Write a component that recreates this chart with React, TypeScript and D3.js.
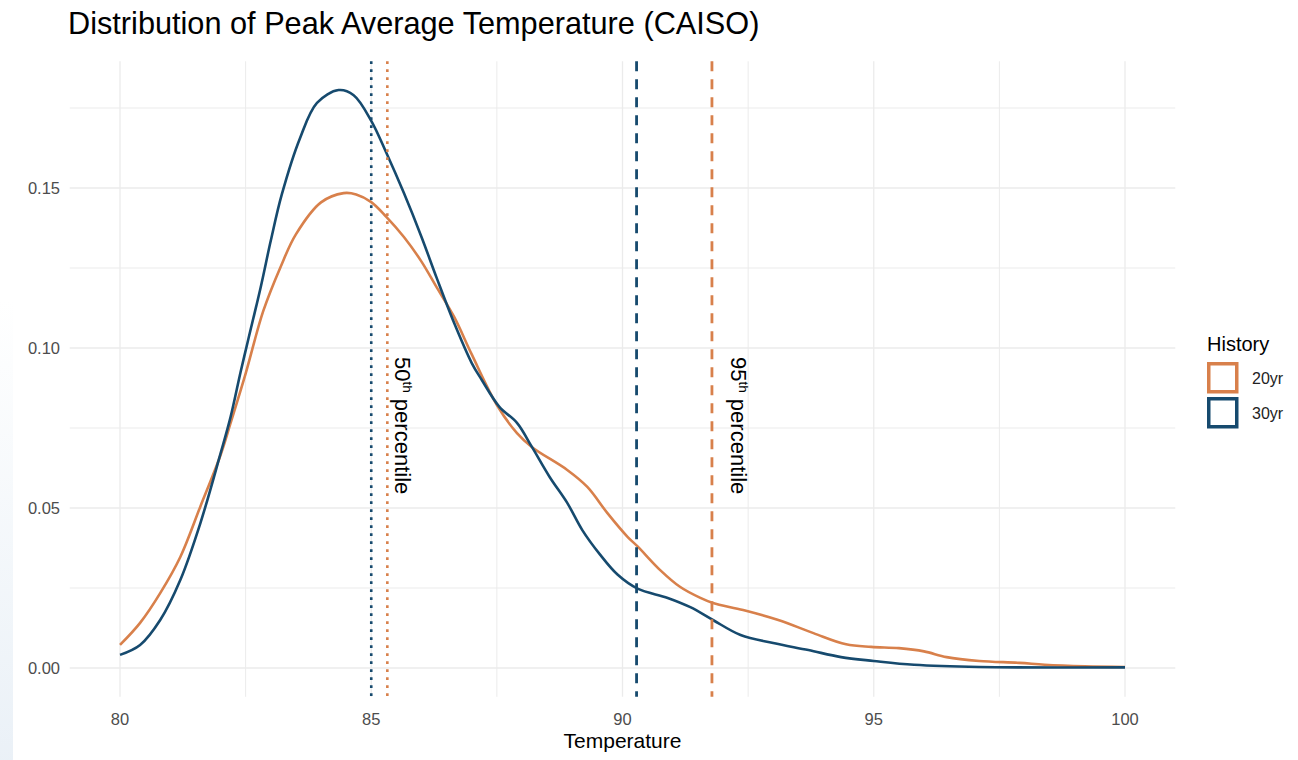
import React from 'react';
import * as d3 from 'd3';

const W = 1298;
const H = 760;

const TITLE = 'Distribution of Peak Average Temperature (CAISO)';
const X_TITLE = 'Temperature';
const LEGEND_TITLE = 'History';
const SERIES_NAMES = ['20yr', '30yr'];

const xTicks = [80, 85, 90, 95, 100];
const xMinor = [82.5, 87.5, 92.5, 97.5];
const yTicks = [0, 0.05, 0.1, 0.15];
const yMinor = [0.025, 0.075, 0.125, 0.175];

const temps20 = [80.0, 80.4, 80.8, 81.2, 81.6, 82.0, 82.2, 82.5, 82.85, 83.2, 83.5, 84.0, 84.45, 84.7, 85.0, 85.3, 85.65, 86.0, 86.3, 86.65, 87.0, 87.5, 87.9, 88.2, 88.9, 89.3, 89.7, 90.1, 90.3, 90.75, 91.15, 91.55, 91.8, 92.4, 93.1, 93.8, 94.45, 94.95, 95.5, 96.0, 96.45, 97.1, 97.9, 98.4, 99.2, 100];
const dens20 = [0.0072, 0.0141, 0.0234, 0.0347, 0.0505, 0.0665, 0.0765, 0.092, 0.1115, 0.1255, 0.1355, 0.1455, 0.1484, 0.148, 0.1456, 0.141, 0.1347, 0.127, 0.119, 0.1097, 0.098, 0.0822, 0.0734, 0.069, 0.0619, 0.0566, 0.0484, 0.041, 0.038, 0.0306, 0.0253, 0.0219, 0.0203, 0.0181, 0.015, 0.0109, 0.0074, 0.0066, 0.0062, 0.0052, 0.0034, 0.0022, 0.0016, 0.001, 0.0005, 0.0003];

const temps30 = [80.0, 80.4, 80.8, 81.2, 81.6, 82.0, 82.2, 82.4, 82.55, 82.8, 83.0, 83.22, 83.58, 83.92, 84.35, 84.65, 85.0, 85.3, 85.65, 86.0, 86.3, 86.65, 87.0, 87.2, 87.55, 87.9, 88.2, 88.55, 88.9, 89.2, 89.55, 89.9, 90.3, 90.9, 91.35, 91.8, 92.35, 93.0, 93.7, 94.35, 95.0, 95.8, 97.1, 100];
const dens30 = [0.0041, 0.0072, 0.015, 0.0275, 0.0453, 0.067, 0.0784, 0.0925, 0.1025, 0.119, 0.1335, 0.148, 0.1655, 0.1766, 0.1806, 0.179, 0.171, 0.161, 0.1484, 0.1347, 0.122, 0.1078, 0.0953, 0.09, 0.0816, 0.0766, 0.069, 0.0597, 0.0516, 0.0431, 0.0355, 0.0292, 0.0248, 0.0219, 0.019, 0.015, 0.0103, 0.0078, 0.0056, 0.0034, 0.0022, 0.001, 0.0003, 0.0002];

const p50 = [85.32, 85.0];
const p95 = [91.78, 90.28];

const COLORS = ['#D8804B', '#164A6E'];
const GRID = '#EBEBEB';
const TICK = '#4D4D4D';
const FONT = 'Liberation Sans, Arial, Helvetica, sans-serif';

export default function App() {
  const x = d3.scaleLinear().domain([80, 100]).range([120, 1125]);
  const y = d3.scaleLinear().domain([0, 0.15]).range([668, 188]);
  const panelLeft = x(79);
  const panelRight = x(101);
  const panelTop = y(0.1896);
  const panelBottom = y(-0.009);

  const line = d3
    .line<[number, number]>()
    .x((d) => x(d[0]))
    .y((d) => y(d[1]))
    .curve(d3.curveCatmullRom.alpha(0.5));

  const series = [
    temps20.map((t, i) => [t, dens20[i]] as [number, number]),
    temps30.map((t, i) => [t, dens30[i]] as [number, number]),
  ];

  return (
    <svg
      width={W}
      height={H}
      style={{ position: 'absolute', left: 0, top: 0, background: '#fff' }}
      fontFamily={FONT}
    >
      <defs>
        <linearGradient id="edge" x1="0" y1="0" x2="0" y2="1">
          <stop offset="0" stopColor="#EAF1F7" stopOpacity={0} />
          <stop offset="0.5" stopColor="#EAF1F7" stopOpacity={0.5} />
          <stop offset="1" stopColor="#E8EFF6" stopOpacity={0.9} />
        </linearGradient>
      </defs>
      <rect x={0} y={0} width={W} height={H} fill="#fff" />
      <rect x={0} y={300} width={13} height={460} fill="url(#edge)" />

      {/* grid */}
      {yMinor.map((v) => (
        <line key={'ym' + v} x1={panelLeft} x2={panelRight} y1={y(v)} y2={y(v)} stroke={GRID} strokeWidth={1} />
      ))}
      {xMinor.map((v) => (
        <line key={'xm' + v} x1={x(v)} x2={x(v)} y1={panelTop} y2={panelBottom} stroke={GRID} strokeWidth={1} />
      ))}
      {yTicks.map((v) => (
        <line key={'yg' + v} x1={panelLeft} x2={panelRight} y1={y(v)} y2={y(v)} stroke={GRID} strokeWidth={1.3} />
      ))}
      {xTicks.map((v) => (
        <line key={'xg' + v} x1={x(v)} x2={x(v)} y1={panelTop} y2={panelBottom} stroke={GRID} strokeWidth={1.3} />
      ))}

      {/* density curves */}
      {series.map((s, i) => (
        <path key={'s' + i} d={line(s) || ''} fill="none" stroke={COLORS[i]} strokeWidth={2.6} strokeLinejoin="round" />
      ))}

      {/* percentile lines */}
      {p50.map((v, i) => (
        <line key={'p50' + i} x1={x(v)} x2={x(v)} y1={panelTop} y2={panelBottom} stroke={COLORS[i]} strokeWidth={2.6} strokeDasharray="2.6,5.4" />
      ))}
      {p95.map((v, i) => (
        <line key={'p95' + i} x1={x(v)} x2={x(v)} y1={panelTop} y2={panelBottom} stroke={COLORS[i]} strokeWidth={2.8} strokeDasharray="10,8" />
      ))}

      {/* percentile labels */}
      <text transform={`translate(${x(p50[0]) + 8},${357}) rotate(90)`} fontSize={22} fill="#000">
        50<tspan fontSize={13.5} dy={-8}>th</tspan>
        <tspan dy={8}> percentile</tspan>
      </text>
      <text transform={`translate(${x(p95[0]) + 19},${357}) rotate(90)`} fontSize={22} fill="#000">
        95<tspan fontSize={13.5} dy={-8}>th</tspan>
        <tspan dy={8}> percentile</tspan>
      </text>

      {/* y axis labels */}
      {yTicks.map((v) => (
        <text key={'yl' + v} x={60} y={y(v)} dy="0.35em" textAnchor="end" fontSize={16.5} fill={TICK}>
          {d3.format('.2f')(v)}
        </text>
      ))}
      {/* x axis labels */}
      {xTicks.map((v) => (
        <text key={'xl' + v} x={x(v)} y={725} textAnchor="middle" fontSize={16.5} fill={TICK}>
          {v}
        </text>
      ))}

      {/* axis title */}
      <text x={(panelLeft + panelRight) / 2} y={748} textAnchor="middle" fontSize={21} fill="#000">
        {X_TITLE}
      </text>

      {/* title */}
      <text x={68} y={34} fontSize={30.7} fill="#000">
        {TITLE}
      </text>

      {/* legend */}
      <text x={1207} y={351} fontSize={20} fill="#000">
        {LEGEND_TITLE}
      </text>
      {SERIES_NAMES.map((name, i) => (
        <g key={'lg' + i} transform={`translate(1207,${362 + i * 35})`}>
          <rect x={1.75} y={1.75} width={28} height={28} fill="#fff" stroke={COLORS[i]} strokeWidth={3.5} />
          <text x={45} y={16} dy="0.35em" fontSize={16} fill="#222">
            {name}
          </text>
        </g>
      ))}
    </svg>
  );
}
